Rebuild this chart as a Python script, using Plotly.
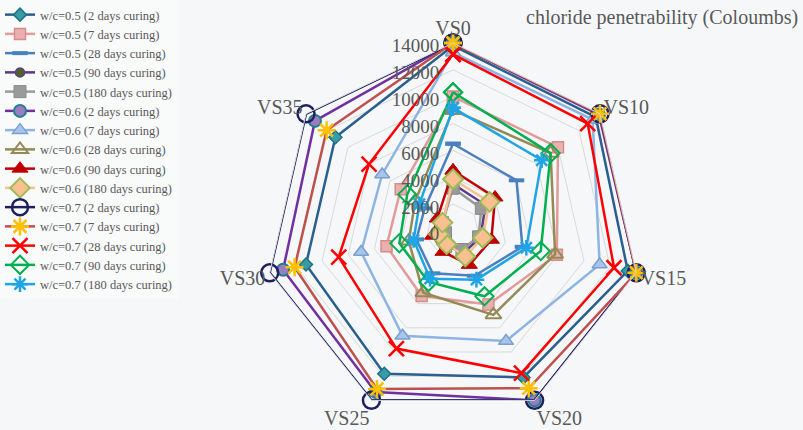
import plotly.graph_objects as go

# categories around the radar (clockwise from the top)
mixes = ['VS0', 'VS10', 'VS15', 'VS20', 'VS25', 'VS30', 'VS35']

# chloride penetrability values, one list per series
wc05_2d = [13800, 13600, 13350, 12100, 11800, 11230, 11200]
wc05_7d = [10000, 10000, 7930, 6080, 5370, 5080, 4980]
wc05_28d = [6500, 6050, 5300, 3700, 3500, 2800, 2700]
wc05_90d = [3500, 3100, 2100, 1800, 1200, 800, 1000]
wc05_180d = [3200, 2700, 1950, 1530, 1280, 570, 1000]
wc06_2d = [14000, 13900, 14000, 14000, 13300, 12980, 13150]
wc06_7d = [13300, 13300, 11200, 9100, 8660, 7020, 6750]
wc06_28d = [9000, 9300, 7800, 6930, 5100, 3380, 3600]
wc06_90d = [4500, 4000, 2930, 2800, 1720, 1560, 1500]
wc06_180d = [3850, 3480, 2270, 2110, 1090, 1070, 1000]
wc07_2d = [14000, 14000, 14000, 14000, 14000, 14000, 14000]
wc07_7d = [14000, 14000, 14000, 13000, 13050, 12100, 12040]
wc07_28d = [13150, 12830, 12300, 11750, 9720, 8730, 8000]
wc07_90d = [10330, 9300, 6700, 5400, 4210, 4100, 4360]
wc07_180d = [9170, 8450, 5600, 4020, 3940, 3010, 3200]

radial_ticks = [0, 2000, 4000, 6000, 8000, 10000, 12000, 14000]

# name, values, line colour, marker dict
series = [
    ('w/c=0.5 (2 days curing)', wc05_2d, '#2b5f8e',
     dict(symbol='diamond', size=10, color='#3a9aa8', line=dict(color='#1b7585', width=1.5))),
    ('w/c=0.5 (7 days curing)', wc05_7d, '#e39a9a',
     dict(symbol='square', size=11, color='#eab0b0', line=dict(color='#d98b8b', width=1.5))),
    ('w/c=0.5 (28 days curing)', wc05_28d, '#4a7fc0',
     dict(symbol='line-ew', size=11, line=dict(color='#4a7fc0', width=4))),
    ('w/c=0.5 (90 days curing)', wc05_90d, '#5b3a86',
     dict(symbol='circle', size=9, color='#4f6228', line=dict(color='#5b3a86', width=1.5))),
    ('w/c=0.5 (180 days curing)', wc05_180d, '#9a9a9a',
     dict(symbol='square', size=12, color='#9a9a9a', line=dict(color='#8a8a8a', width=1))),
    ('w/c=0.6 (2 days curing)', wc06_2d, '#7030a0',
     dict(symbol='circle', size=12, color='#9a7cc0', line=dict(color='#1f7f8f', width=2))),
    ('w/c=0.6 (7 days curing)', wc06_7d, '#8eb4e3',
     dict(symbol='triangle-up', size=13, color='#a8c4ea', line=dict(color='#7aa0d0', width=1.5))),
    ('w/c=0.6 (28 days curing)', wc06_28d, '#948a54',
     dict(symbol='triangle-up-open', size=14, color='#948a54', line=dict(width=2))),
    ('w/c=0.6 (90 days curing)', wc06_90d, '#c00000',
     dict(symbol='triangle-up', size=14, color='#c00000', line=dict(color='#c00000', width=1))),
    ('w/c=0.6 (180 days curing)', wc06_180d, '#fac090',
     dict(symbol='diamond', size=15, color='#fac090', line=dict(color='#9bbb59', width=2))),
    ('w/c=0.7 (2 days curing)', wc07_2d, '#1f1f5f',
     dict(symbol='circle-open', size=17, color='#1f1f5f', line=dict(width=2.5))),
    ('w/c=0.7 (7 days curing)', wc07_7d, '#c0504d',
     dict(symbol='asterisk', size=15, line=dict(color='#ffc000', width=2.5))),
    ('w/c=0.7 (28 days curing)', wc07_28d, '#ff0000',
     dict(symbol='x-thin', size=15, line=dict(color='#ff0000', width=2.5))),
    ('w/c=0.7 (90 days curing)', wc07_90d, '#00b050',
     dict(symbol='diamond-open', size=14, color='#00b050', line=dict(width=2))),
    ('w/c=0.7 (180 days curing)', wc07_180d, '#1fa5e6',
     dict(symbol='asterisk', size=13, line=dict(color='#1fa5e6', width=2.5))),
]

serif = 'Liberation Serif, Times New Roman, serif'
grey = '#595959'
bg = '#f5f7f8'

fig = go.Figure()
for name, vals, col, mk in series:
    # close the polygon by repeating the first point
    fig.add_trace(go.Scatterpolar(r=vals + vals[:1], theta=mixes + mixes[:1],
                                  mode='lines+markers', name=name,
                                  line=dict(color=col, width=2.5), marker=mk))

fig.update_layout(
    width=803, height=430,
    margin=dict(l=0, r=0, t=0, b=0),
    paper_bgcolor=bg,
    polar=dict(
        # radar slightly shrunk so the bottom category labels stay inside the page
        domain=dict(x=[0.3300, 0.7983], y=[0.0256, 0.9]),
        bgcolor=bg,
        gridshape='linear',
        radialaxis=dict(range=[0, 14000], tickvals=radial_ticks, tickformat='d', angle=90,
                        side='counterclockwise', showline=False, ticks='',
                        gridcolor='#d9d9d9', gridwidth=1,
                        tickfont=dict(family=serif, size=19, color=grey)),
        angularaxis=dict(direction='clockwise', rotation=90, showgrid=False,
                         showline=True, linecolor='#d9d9d9', ticks='',
                         tickfont=dict(family=serif, size=20, color=grey)),
    ),
    legend=dict(x=0.0, y=1.0, xanchor='left', yanchor='top',
                bgcolor='#f9fafa', font=dict(family=serif, size=12.5, color=grey),
                itemwidth=30),
    annotations=[dict(text='chloride penetrability (Coloumbs)', xref='paper', yref='paper',
                      x=0.996, y=0.96, xanchor='right', yanchor='middle', showarrow=False,
                      font=dict(family=serif, size=20, color=grey))],
)

# page body has a default 8px margin, drop it so the figure sits at the corner
fig.write_html("out.html", config={'displayModeBar': False},
               post_script="document.body.style.margin='0px';")
